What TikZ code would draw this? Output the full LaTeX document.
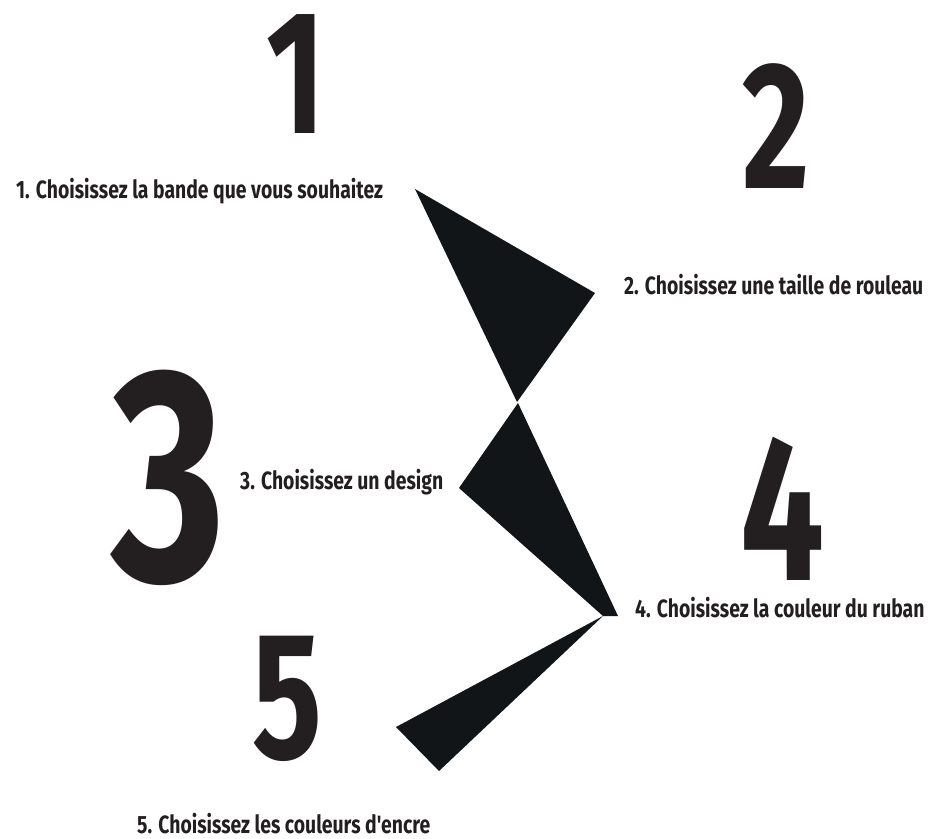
\documentclass[tikz,border=0pt]{standalone}
\usepackage{fontspec}
\setmainfont{Fira Sans}
\newfontfamily\narrowfont[FakeStretch=0.72]{Fira Sans}
\newfontfamily\labelfont[FakeStretch=0.775]{Fira Sans}
\definecolor{inkdark}{HTML}{231F20}
\definecolor{wedge}{HTML}{121517}
\tikzset{
  bignum/.style={anchor=base,inner sep=0pt,text=inkdark,text depth=0pt},
  steplabel/.style={anchor=base west,inner sep=0pt,text=inkdark,
    font=\labelfont\bfseries\fontsize{25}{25}\selectfont}
}

\begin{document}
\begin{tikzpicture}[x=1pt,y=-1pt]
\useasboundingbox (0,0) rectangle (944,838);
% big step numbers
\node[bignum,font=\narrowfont\bfseries\fontsize{176}{176}\selectfont] (n1) at (296,133) {1};
\node[bignum,font=\narrowfont\bfseries\fontsize{181}{181}\selectfont] (n2) at (776,188) {2};
\node[bignum,font=\narrowfont\bfseries\fontsize{305}{305}\selectfont] (n3) at (169,580) {3};
\node[bignum,font=\narrowfont\bfseries\fontsize{207}{207}\selectfont] (n4) at (783,580) {4};
\node[bignum,font=\narrowfont\bfseries\fontsize{181}{181}\selectfont] (n5) at (287,758) {5};
% labels
\node[steplabel] (l1) at (16,198) {1. Choisissez la bande que vous souhaitez};
\node[steplabel] (l2) at (624,294) {2. Choisissez une taille de rouleau};
\node[steplabel] (l3) at (240,489) {3. Choisissez un design};
\node[steplabel] (l4) at (635,617) {4. Choisissez la couleur du ruban};
\node[steplabel] (l5) at (137,833) {5. Choisissez les couleurs d'encre};
% zigzag wedges
\fill[wedge] (415,189) -- (595,293) -- (517,402) -- cycle;
\fill[wedge] (518,403) -- (618,616) -- (603,616) -- (459,488) -- cycle;
\fill[wedge] (603,616) -- (439,771) -- (396,727) -- cycle;
\end{tikzpicture}
\end{document}
